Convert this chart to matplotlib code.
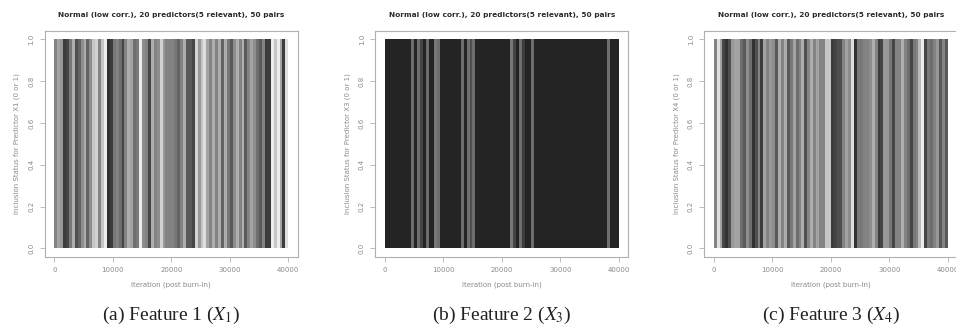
import matplotlib
matplotlib.use("Agg")
import matplotlib.pyplot as plt
import numpy as np

# Inclusion frequency per block of 500 post burn-in iterations (0..40000)
bin_width = 500
n_bins = 80

x1_density = [0.5, 0.35, 0.4, 0.85, 0.8, 0.55, 0.3, 0.75, 0.65, 0.45,
              0.3, 0.65, 0.45, 0.2, 0.15, 0.5, 0.2, 0.05, 0.9, 0.85,
              0.55, 0.5, 0.6, 0.8, 0.5, 0.3, 0.35, 0.6, 0.55, 0.05,
              0.45, 0.5, 0.8, 0.3, 0.5, 0.45, 0.15, 0.4, 0.5, 0.5,
              0.5, 0.55, 0.65, 0.5, 0.3, 0.7, 0.7, 0.8, 0.15, 0.4,
              0.2, 0.1, 0.35, 0.5, 0.3, 0.5, 0.3, 0.65, 0.3, 0.55,
              0.7, 0.45, 0.3, 0.5, 0.3, 0.7, 0.5, 0.35, 0.45, 0.6,
              0.7, 0.5, 0.85, 0.85, 0.05, 0.2, 0.05, 0.35, 0.85, 0.1]

x3_light_bins = [9, 11, 12, 14, 17, 18, 26, 28, 29, 30, 43, 44, 46, 47, 50, 76]
x3_light_vals = [0.6, 0.6, 0.8, 0.6, 0.55, 0.6, 0.6, 0.6, 0.75, 0.6, 0.55, 0.8, 0.6, 0.85, 0.6, 0.6]
x3_base = 0.97

x4_density = [0.5, 0.1, 0.35, 0.8, 0.9, 0.75, 0.4, 0.35, 0.35, 0.6,
              0.7, 0.45, 0.6, 0.9, 0.75, 0.5, 0.85, 0.35, 0.5, 0.4,
              0.45, 0.7, 0.3, 0.5, 0.3, 0.7, 0.55, 0.35, 0.6, 0.5,
              0.3, 0.75, 0.5, 0.3, 0.5, 0.35, 0.5, 0.5, 0.2, 0.2,
              0.85, 0.8, 0.75, 0.75, 0.5, 0.35, 0.45, 0.1, 0.9, 0.55,
              0.55, 0.5, 0.5, 0.45, 0.3, 0.5, 0.85, 0.8, 0.4, 0.4,
              0.55, 0.8, 0.5, 0.5, 0.3, 0.5, 0.6, 0.8, 0.55, 0.5,
              0.25, 0.05, 0.8, 0.55, 0.6, 0.5, 0.4, 0.7, 0.5, 0.7]

titles = ["Normal (low corr.), 20 predictors(5 relevant), 50 pairs"] * 3
ylabels = ["Inclusion Status for Predictor X1 (0 or 1)",
           "Inclusion Status for Predictor X3 (0 or 1)",
           "Inclusion Status for Predictor X4 (0 or 1)"]
xlabel = "Iteration (post burn-in)"
captions = [r"(a) Feature 1 ($X_1$)", r"(b) Feature 2 ($X_3$)", r"(c) Feature 3 ($X_4$)"]
xticks = [0, 10000, 20000, 30000, 40000]
yticks = [0.0, 0.2, 0.4, 0.6, 0.8, 1.0]

x3_density = [x3_base] * n_bins
for b, v in zip(x3_light_bins, x3_light_vals):
    x3_density[b] = v

densities = [x1_density, x3_density, x4_density]

plt.rcParams['mathtext.fontset'] = 'stix'
fig = plt.figure(figsize=(9.56, 3.31), dpi=100)
W, H = 956, 331
lefts = [44.9, 375.3, 704.3]
box_w, box_top, box_bot = 252.8, 30.9, 256.7

frame_col = "#b0b0b0"
text_col = "#8a8a8a"

for i in range(3):
    ax = fig.add_axes([lefts[i] / W, 1 - box_bot / H, box_w / W, (box_bot - box_top) / H])
    starts = np.arange(n_bins) * bin_width
    d = np.array(densities[i])
    cols = [str(1 - 0.88 * v ** 0.85) for v in d]
    ax.bar(starts, np.ones(n_bins), width=bin_width, align='edge', color=cols, linewidth=0)
    ax.set_xlim(-1600, 41600)
    ax.set_ylim(-0.04, 1.04)
    ax.set_xticks(xticks)
    ax.set_xticklabels([str(t) for t in xticks])
    ax.set_yticks(yticks)
    ax.set_yticklabels(["%.1f" % t for t in yticks], rotation=90, va='center')
    ax.tick_params(axis='both', length=3.5, width=0.6, color=frame_col, labelsize=5,
                   labelcolor=text_col, pad=4)
    for sp in ax.spines.values():
        sp.set_color(frame_col)
        sp.set_linewidth(0.8)
    ax.set_xlabel(xlabel, fontsize=5, color=text_col, labelpad=6)
    ax.set_ylabel(ylabels[i], fontsize=5, color=text_col, labelpad=6)
    ax.set_title(titles[i], fontsize=5.3, fontweight='bold', color="#2a2a2a", pad=10)
    cx = (lefts[i] + box_w / 2) / W
    fig.text(cx, 1 - 315 / H, captions[i], ha='center', va='center',
             fontsize=14, family='Liberation Serif', color="#222222")

fig.savefig("out.png", dpi=100)
